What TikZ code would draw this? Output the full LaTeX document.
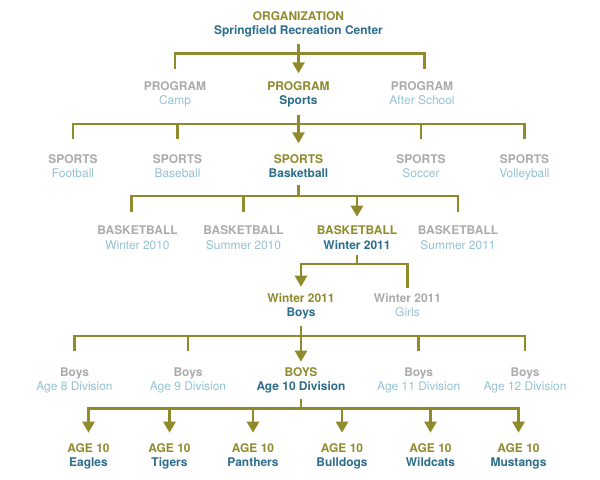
\documentclass[tikz,border=0pt]{standalone}
\usepackage{fontspec}
\setmainfont{TeX Gyre Heros}
\usetikzlibrary{calc,arrows.meta}
\definecolor{cOl}{HTML}{8F8A2C}
\definecolor{cTe}{HTML}{2B6D8B}
\definecolor{cGr}{HTML}{ABABAB}
\definecolor{cLb}{HTML}{93C2D4}
\newcommand\tlab[5]{\vtop{\baselineskip=14bp\lineskip=0pt\lineskiplimit=-20pt\halign{\hfil##\hfil\cr\textcolor{#1}{\bfseries #2}\cr\textcolor{#3}{#4#5}\cr}}}
\newcommand\onl[2]{\tlab{cOl}{#1}{cTe}{\bfseries}{#2}}
\newcommand\offl[2]{\tlab{cGr}{#1}{cLb}{\mdseries}{#2}}
\newcommand\tconn[6]{\draw[conn,#6] ($(#1.base)+(0,#3)$) -- ($(#1.base)+(0,#4)$) -| ($(#2.base)+(0,-#5)$);}
\begin{document}
\begin{tikzpicture}[x=1bp,y=-1bp,
  lbl/.style={anchor=base,inner sep=0pt,font=\fontsize{12}{14}\selectfont},
  conn/.style={draw=cOl,line width=2.6bp},
  arr/.style={-{Triangle[width=12bp,length=11bp]}},
  plain/.style={}]
\useasboundingbox (0,0) rectangle (600,480);
% level A
\node[lbl] (org) at (298.5,20.7) {\onl{ORGANIZATION}{Springfield Recreation Center}};
% level B
\node[lbl] (camp) at (175,90.7) {\offl{PROGRAM}{Camp}};
\node[lbl] (psports) at (298.5,90.7) {\onl{PROGRAM}{Sports}};
\node[lbl] (after) at (422,90.7) {\offl{PROGRAM}{After School}};
% level C
\node[lbl] (foot) at (73,163.3) {\offl{SPORTS}{Football}};
\node[lbl] (baseb) at (177.5,163.3) {\offl{SPORTS}{Baseball}};
\node[lbl] (bask) at (298.5,163.3) {\onl{SPORTS}{Basketball}};
\node[lbl] (socc) at (421,163.3) {\offl{SPORTS}{Soccer}};
\node[lbl] (volley) at (524.5,163.3) {\offl{SPORTS}{Volleyball}};
% level D
\node[lbl] (wten) at (137.5,235) {\offl{BASKETBALL}{Winter 2010}};
\node[lbl] (sten) at (243.5,235) {\offl{BASKETBALL}{Summer 2010}};
\node[lbl] (welev) at (357,235) {\onl{BASKETBALL}{Winter 2011}};
\node[lbl] (selev) at (458,235) {\offl{BASKETBALL}{Summer 2011}};
% level E
\node[lbl] (boys) at (301,302.7) {\onl{Winter 2011}{Boys}};
\node[lbl] (girls) at (407.5,302.7) {\offl{Winter 2011}{Girls}};
% level F
\node[lbl] (aeight) at (74.5,376.7) {\offl{Boys}{Age 8 Division}};
\node[lbl] (anine) at (188,376.7) {\offl{Boys}{Age 9 Division}};
\node[lbl] (aten) at (301,376.7) {\onl{BOYS}{Age 10 Division}};
\node[lbl] (aeleven) at (418.7,376.7) {\offl{Boys}{Age 11 Division}};
\node[lbl] (atwelve) at (525,376.7) {\offl{Boys}{Age 12 Division}};
% level G
\node[lbl] (eagles) at (88.5,452.7) {\onl{AGE 10}{Eagles}};
\node[lbl] (tigers) at (169.5,452.7) {\onl{AGE 10}{Tigers}};
\node[lbl] (panthers) at (253,452.7) {\onl{AGE 10}{Panthers}};
\node[lbl] (bulldogs) at (342,452.7) {\onl{AGE 10}{Bulldogs}};
\node[lbl] (wildcats) at (430.5,452.7) {\onl{AGE 10}{Wildcats}};
\node[lbl] (mustangs) at (518.5,452.7) {\onl{AGE 10}{Mustangs}};
% connectors A -> B
\tconn{org}{camp}{23.6}{32.6}{21.7}{plain}
\draw[conn] ($(org.base)+(0,23.6)$) -- ($(org.base)+(0,32.6)$) -| ($(after.base)+(2.5,-21.7)$);
\tconn{org}{psports}{23.6}{32.6}{17.4}{arr}
% B -> C
\tconn{psports}{foot}{24.3}{33.3}{24.3}{plain}
\tconn{psports}{baseb}{24.3}{33.3}{24.3}{plain}
\tconn{psports}{socc}{24.3}{33.3}{24.3}{plain}
\tconn{psports}{volley}{24.3}{33.3}{24.3}{plain}
\tconn{psports}{bask}{24.3}{33.3}{20}{arr}
% C -> D
\draw[conn] ($(bask.base)+(0,21.7)$) -- ($(bask.base)+(0,32.7)$) -| ($(wten.base)+(-6,-23.3)$);
\tconn{bask}{sten}{21.7}{32.7}{23.3}{plain}
\tconn{bask}{selev}{21.7}{32.7}{23.3}{plain}
\tconn{bask}{welev}{21.7}{32.7}{18.3}{arr}
% D -> E
\tconn{welev}{girls}{20}{29}{15}{plain}
\tconn{welev}{boys}{20}{29}{16}{arr}
% E -> F
\tconn{boys}{aeight}{23.3}{33.3}{25.7}{plain}
\tconn{boys}{anine}{23.3}{33.3}{25.7}{plain}
\tconn{boys}{aeleven}{23.3}{33.3}{25.7}{plain}
\tconn{boys}{atwelve}{23.3}{33.3}{25.7}{plain}
\tconn{boys}{aten}{23.3}{33.3}{15}{arr}
% F -> G
\tconn{aten}{eagles}{22.6}{31.6}{20}{arr}
\tconn{aten}{tigers}{22.6}{31.6}{20}{arr}
\tconn{aten}{panthers}{22.6}{31.6}{20}{arr}
\tconn{aten}{bulldogs}{22.6}{31.6}{20}{arr}
\tconn{aten}{wildcats}{22.6}{31.6}{20}{arr}
\tconn{aten}{mustangs}{22.6}{31.6}{20}{arr}
\end{tikzpicture}
\end{document}
